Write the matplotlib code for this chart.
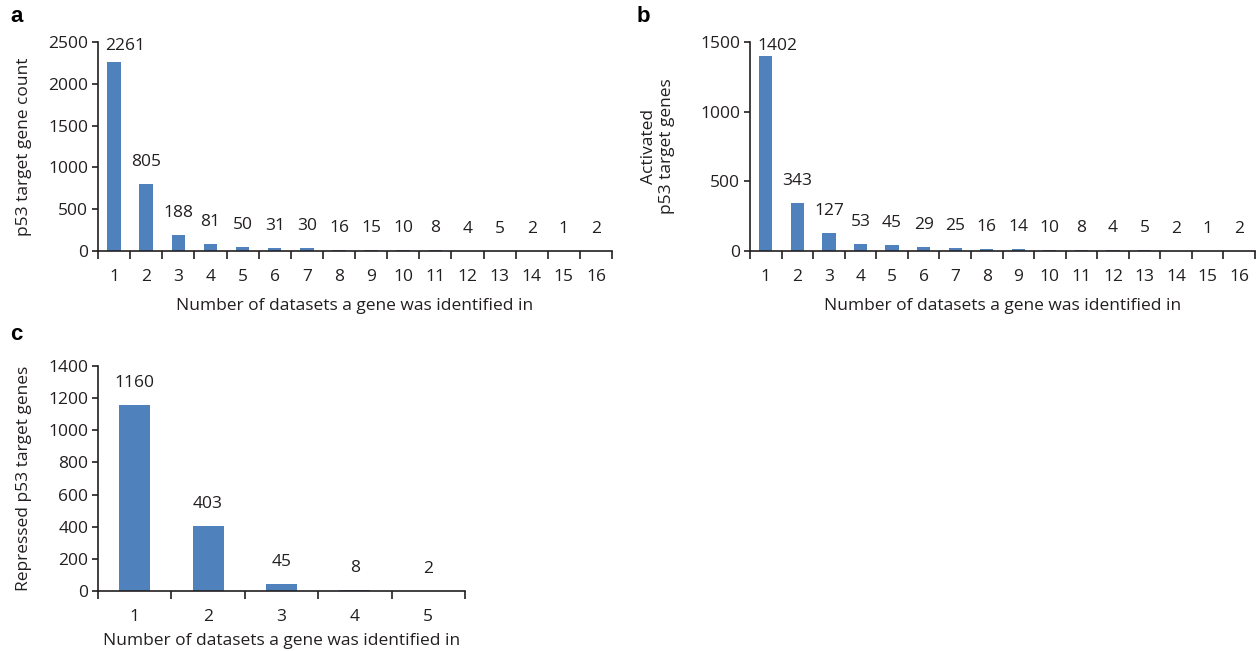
import matplotlib.pyplot as plt
import matplotlib.transforms as mtransforms
import numpy as np

plt.rcParams['font.family'] = ['Open Sans', 'DejaVu Sans']
plt.rcParams['text.color'] = '#231f20'
plt.rcParams['axes.labelcolor'] = '#231f20'
plt.rcParams['xtick.color'] = '#231f20'
plt.rcParams['ytick.color'] = '#231f20'

BAR_COLOR = '#4f81bd'
FS = 12.5

# data
datasets_ab = list(range(1, 17))
total_counts = [2261, 805, 188, 81, 50, 31, 30, 16, 15, 10, 8, 4, 5, 2, 1, 2]
activated_counts = [1402, 343, 127, 53, 45, 29, 25, 16, 14, 10, 8, 4, 5, 2, 1, 2]
datasets_c = list(range(1, 6))
repressed_counts = [1160, 403, 45, 8, 2]


# excel-style bar chart with value labels above bars
def bar_panel(fig, ax, cats, vals, ymax, ystep, ylabel, h_px, xlabel_pad, ylabel_pad):
    ax.bar(cats, vals, width=0.42, color=BAR_COLOR)
    ax.set_xlim(cats[0] - 0.5, cats[-1] + 0.5)
    ax.set_ylim(0, ymax)
    ax.set_yticks(np.arange(0, ymax + 1, ystep))
    ax.set_xticks(cats)
    ax.set_xticks(np.arange(cats[0] - 0.5, cats[-1] + 1, 1), minor=True)
    ax.tick_params(axis='x', which='major', length=0, pad=13, labelsize=FS)
    ax.tick_params(axis='x', which='minor', length=6, width=1.2, direction='out')
    ax.tick_params(axis='y', length=4, width=1.2, direction='out', pad=3, labelsize=FS)
    for s in ['top', 'right']:
        ax.spines[s].set_visible(False)
    for s in ['left', 'bottom']:
        ax.spines[s].set_linewidth(1.2)
        ax.spines[s].set_color('#231f20')
    ax.set_ylabel(ylabel, fontsize=FS, linespacing=1.15, labelpad=ylabel_pad)
    ax.set_xlabel('Number of datasets a gene was identified in', fontsize=FS,
                  labelpad=xlabel_pad)

    # value labels, kept inside the plot area like excel does
    trans = mtransforms.blended_transform_factory(ax.transData, ax.transAxes)
    nudge = mtransforms.ScaledTranslation(7 / 100, 0, fig.dpi_scale_trans)
    top = 1 - 4 / h_px
    for c, v in zip(cats, vals):
        yf = v / ymax + 22 / h_px
        if yf > top:
            # pushed down into the corner, so it sits right of the y axis
            ax.text(cats[0] - 0.5, top, str(v), transform=trans + nudge,
                    ha='left', va='center', fontsize=FS)
        else:
            ax.text(c, yf, str(v), transform=trans, ha='center', va='center',
                    fontsize=FS)


fig = plt.figure(figsize=(12.56, 6.51), dpi=100)

ax_a = fig.add_axes([98 / 1256, 400 / 651, 514 / 1256, 209 / 651])
bar_panel(fig, ax_a, datasets_ab, total_counts, 2500, 500,
          'p53 target gene count', 209, 9, 12)

ax_b = fig.add_axes([750 / 1256, 400 / 651, 505 / 1256, 209 / 651])
bar_panel(fig, ax_b, datasets_ab, activated_counts, 1500, 500,
          'Activated\np53 target genes', 209, 9, 18)

ax_c = fig.add_axes([98 / 1256, 60 / 651, 367 / 1256, 225 / 651])
bar_panel(fig, ax_c, datasets_c, repressed_counts, 1400, 200,
          'Repressed p53 target genes', 225, 6, 12)

for x, y, lab in [(10, 16, 'a'), (637, 16, 'b'), (10, 335, 'c')]:
    fig.text(x / 1256, 1 - y / 651, lab, fontsize=16, fontweight='bold',
             family='Liberation Sans', va='center', ha='left', color='black')

fig.savefig('out.png', dpi=100, facecolor='white')
